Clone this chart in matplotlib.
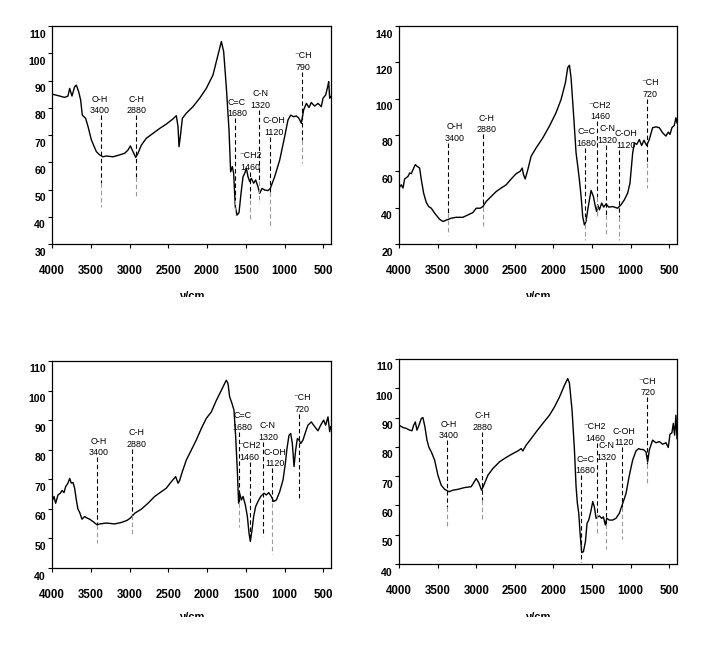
import matplotlib
matplotlib.use('Agg')
import matplotlib.pyplot as plt
from matplotlib.transforms import Bbox, offset_copy

W, H = 703, 645
fig = plt.figure(figsize=(W / 100, H / 100), dpi=100)

# ---------------- data ----------------
x_ticks = [4000, 3500, 3000, 2500, 2000, 1500, 1000, 500]
x_tick_labels = ['4000', '3500', '3000', '2500', '2000', '1500', '1000', '500']
x_label = 'ν/cm'

wn1 = [4000, 3901, 3837, 3794, 3772, 3742, 3708, 3686, 3656, 3630, 3609, 3566, 3535, 3492, 3428, 3385,
       3342, 3299, 3213, 3127, 3062, 3019, 2989, 2955, 2920, 2890, 2847, 2783, 2697, 2611, 2525, 2439,
       2396, 2374, 2361, 2344, 2318, 2267, 2181, 2095, 2009, 1923, 1858, 1815, 1785, 1751, 1716, 1695,
       1673, 1656, 1635, 1613, 1587, 1561, 1535, 1514, 1492, 1471, 1449, 1428, 1398, 1372, 1342, 1320,
       1290, 1256, 1213, 1183, 1127, 1062, 998, 955, 920, 882, 847, 813, 783, 753, 718, 684, 654, 611,
       568, 525, 503, 469, 443, 430, 417, 404]
t1 = [85.0, 84.3, 83.8, 84.3, 87.1, 84.3, 87.7, 88.3, 85.9, 82.8, 77.3, 76.1, 73.1, 68.2, 63.9, 62.7,
      62.0, 62.3, 62.0, 62.7, 63.3, 64.5, 66.0, 63.9, 61.8, 63.3, 66.3, 68.8, 70.6, 72.4, 74.0, 75.9,
      77.1, 73.1, 65.7, 69.4, 76.1, 78.0, 80.4, 83.5, 87.1, 92.0, 99.4, 104.3, 100.6, 87.7, 71.8, 56.5,
      58.4, 55.9, 43.7, 40.6, 41.5, 48.6, 54.7, 55.9, 57.8, 54.7, 52.9, 54.1, 52.3, 53.5, 51.0, 48.6,
      50.4, 49.8, 49.6, 50.4, 54.7, 60.8, 69.4, 75.5, 77.3, 76.7, 77.0, 76.1, 74.3, 79.2, 81.6, 80.1,
      81.9, 80.6, 81.6, 80.4, 83.5, 84.7, 87.7, 89.6, 83.5, 84.1]

wn2 = [4000, 3970, 3948, 3927, 3884, 3862, 3841, 3819, 3789, 3767, 3733, 3711, 3681, 3647, 3616, 3582,
       3539, 3474, 3431, 3379, 3323, 3259, 3172, 3108, 3043, 3000, 2948, 2914, 2871, 2806, 2741, 2677,
       2612, 2547, 2483, 2431, 2405, 2388, 2366, 2332, 2289, 2224, 2138, 2052, 1966, 1901, 1845, 1815,
       1793, 1772, 1741, 1707, 1685, 1664, 1642, 1621, 1599, 1578, 1556, 1534, 1513, 1483, 1457, 1440,
       1427, 1405, 1375, 1349, 1319, 1284, 1233, 1168, 1125, 1082, 1039, 1009, 974, 953, 922, 888, 858,
       828, 793, 759, 716, 672, 629, 586, 543, 513, 491, 466, 435, 414, 400]
t2 = [50.8, 52.6, 50.8, 55.8, 57.2, 59.1, 58.7, 60.9, 63.7, 62.8, 61.8, 55.4, 48.0, 42.9, 40.6, 39.7,
      37.0, 33.6, 32.4, 33.3, 34.2, 34.7, 34.7, 36.0, 37.3, 39.7, 39.7, 40.6, 43.4, 46.2, 48.9, 50.8,
      52.6, 55.8, 58.7, 60.0, 61.8, 58.2, 55.8, 60.9, 68.3, 72.9, 78.4, 84.9, 92.3, 99.6, 108.8, 117.1,
      118.4, 111.6, 92.3, 70.1, 62.8, 55.4, 46.2, 35.1, 30.5, 32.4, 38.8, 44.3, 49.5, 46.2, 40.6, 37.9,
      41.6, 38.8, 42.5, 40.3, 42.1, 40.3, 40.6, 39.7, 41.6, 44.3, 48.0, 53.5, 70.1, 75.7, 74.8, 77.5, 74.2,
      77.1, 74.2, 77.5, 84.0, 84.5, 84.0, 81.2, 79.4, 81.6, 80.3, 84.0, 85.3, 89.5, 86.7]

wn3 = [4000, 3974, 3953, 3923, 3892, 3871, 3845, 3824, 3794, 3772, 3751, 3729, 3708, 3686, 3665, 3643,
       3613, 3579, 3548, 3514, 3471, 3419, 3385, 3299, 3191, 3105, 3032, 2989, 2933, 2847, 2761, 2675,
       2589, 2525, 2460, 2404, 2374, 2353, 2318, 2267, 2202, 2138, 2073, 2009, 1944, 1879, 1815, 1772,
       1751, 1729, 1708, 1677, 1652, 1630, 1609, 1592, 1579, 1557, 1535, 1505, 1479, 1458, 1441, 1419,
       1398, 1372, 1342, 1307, 1264, 1234, 1204, 1170, 1140, 1105, 1062, 1019, 989, 968, 942, 920, 899,
       877, 856, 834, 813, 791, 761, 727, 697, 654, 611, 568, 533, 495, 469, 439, 417, 404]
t3 = [62.5, 64.2, 61.9, 64.7, 65.3, 66.2, 65.5, 67.5, 68.7, 70.3, 68.7, 68.9, 67.0, 63.0, 59.9, 58.8,
      56.5, 57.4, 56.9, 56.5, 55.7, 54.6, 54.9, 55.2, 54.9, 55.4, 56.1, 56.9, 58.5, 59.9, 61.9, 64.2,
      65.8, 67.0, 69.2, 70.9, 68.7, 69.6, 72.6, 76.5, 79.9, 83.3, 87.2, 90.6, 92.8, 96.7, 100.1, 102.4,
      103.5, 102.4, 97.9, 95.6, 93.4, 84.4, 73.1, 61.9, 65.3, 63.0, 64.2, 61.3, 57.4, 51.8, 49.0, 52.9,
      57.4, 60.8, 62.5, 64.2, 65.3, 64.7, 65.5, 64.2, 62.5, 63.0, 65.8, 69.8, 75.4, 80.4, 84.9, 85.5, 82.1,
      74.3, 79.9, 83.8, 83.3, 82.1, 83.3, 86.1, 88.3, 89.4, 87.8, 86.4, 88.3, 90.0, 88.3, 91.1, 86.1, 87.8]

wn4 = [4000, 3948, 3905, 3862, 3832, 3810, 3789, 3767, 3741, 3711, 3690, 3664, 3638, 3612, 3582, 3539,
       3496, 3453, 3409, 3353, 3302, 3237, 3151, 3065, 3034, 3000, 2966, 2931, 2892, 2849, 2784, 2698,
       2612, 2526, 2461, 2418, 2397, 2353, 2289, 2224, 2138, 2052, 1987, 1922, 1858, 1815, 1793, 1759,
       1728, 1707, 1690, 1672, 1655, 1634, 1612, 1586, 1565, 1543, 1517, 1491, 1470, 1448, 1427, 1405,
       1375, 1353, 1328, 1310, 1276, 1233, 1190, 1147, 1103, 1060, 1017, 974, 931, 897, 866, 836, 802,
       780, 759, 716, 672, 629, 586, 543, 513, 491, 466, 448, 431, 414, 400]
t4 = [87.4, 86.6, 86.3, 85.7, 85.5, 87.4, 88.5, 85.7, 87.4, 89.7, 90.0, 86.8, 82.3, 79.8, 78.3, 75.5,
      70.3, 66.9, 65.5, 64.7, 65.2, 65.5, 66.1, 66.4, 67.7, 69.2, 67.7, 65.2, 67.5, 70.3, 72.6, 74.9,
      76.4, 77.7, 78.6, 79.4, 78.6, 80.6, 82.8, 85.1, 88.0, 90.8, 93.6, 97.0, 101.0, 103.3, 101.8, 92.5,
      78.9, 66.4, 60.7, 57.3, 50.5, 43.9, 44.2, 47.6, 53.9, 55.0, 57.8, 61.3, 59.5, 55.6, 56.1, 56.4,
      55.6, 56.1, 53.3, 55.6, 55.0, 55.0, 55.6, 57.3, 60.7, 64.1, 70.3, 75.5, 78.6, 79.4, 79.1, 79.1, 78.3,
      74.9, 78.9, 82.3, 81.4, 81.8, 80.9, 81.4, 79.8, 84.3, 84.8, 88.0, 84.0, 90.8, 82.8]

y_ticks1 = [30, 40, 50, 60, 70, 80, 90, 100, 110]
y_ticks2 = [20, 40, 60, 80, 100, 120, 140]
y_ticks3 = [40, 50, 60, 70, 80, 90, 100, 110]
y_ticks4 = [40, 50, 60, 70, 80, 90, 100, 110]

band_names = ['O-H', 'C-H', 'C=C', '⁻CH2', 'C-N', 'C-OH', '⁻CH']
band_nums1 = ['3400', '2880', '1680', '1460', '1320', '1120', '790']
band_nums2 = ['3400', '2880', '1680', '1460', '1320', '1120', '720']
band_nums3 = ['3400', '2880', '1680', '1460', '1320', '1120', '720']
band_nums4 = ['3400', '2880', '1680', '1460', '1320', '1120', '720']

# dashed marker lines: x, top, black->grey change, bottom ; label centre x
line_x1 = [3363, 2920, 1639, 1441, 1325, 1191, 778]
line_top1 = [77.3, 77.3, 76.1, 56.5, 79.2, 69.4, 93.2]
line_mid1 = [52.3, 54.7, 46.0, 46.0, 53.0, 49.0, 68.0]
line_bot1 = [43.7, 46.8, 40.6, 39.2, 45.2, 36.7, 59.8]
text_x1 = [3385, 2912, 1613, 1441, 1308, 1140, 761]

line_x2 = [3362, 2914, 1595, 1431, 1315, 1155, 789]
line_top2 = [75.7, 80.3, 72.9, 87.7, 74.7, 72.0, 100.0]
line_mid2 = [37.0, 40.6, 35.0, 46.0, 36.0, 35.0, 64.6]
line_bot2 = [25.0, 29.2, 22.2, 34.2, 23.7, 22.2, 50.8]
text_x2 = [3280, 2862, 1569, 1397, 1306, 1060, 746]

line_x3 = [3419, 2963, 1592, 1441, 1277, 1157, 813]
line_top3 = [77.4, 80.4, 86.1, 76.0, 82.7, 73.7, 92.2]
line_mid3 = [54.6, 58.0, 62.0, 49.0, 50.9, 61.9, 63.3]
line_bot3 = [48.4, 50.9, 54.0, 49.0, 50.9, 44.8, 63.3]
text_x3 = [3394, 2912, 1544, 1449, 1213, 1123, 778]

line_x4 = [3379, 2922, 1638, 1440, 1319, 1112, 793]
line_top4 = [82.3, 85.1, 70.3, 81.4, 74.9, 79.8, 97.0]
line_mid4 = [59.5, 61.8, 40.8, 57.0, 53.5, 59.5, 74.0]
line_bot4 = [52.2, 54.8, 40.8, 50.5, 45.0, 48.4, 66.9]
text_x4 = [3353, 2914, 1586, 1461, 1310, 1082, 780]

# ---------------- layout ----------------
panels = [
    dict(rect=(52, 26, 331, 244), wn=wn1, t=t1, yt=y_ticks1, nums=band_nums1,
         lx=line_x1, lt=line_top1, lm=line_mid1, lb=line_bot1, tx=text_x1, xl=(291, 297)),
    dict(rect=(399, 26, 677, 244), wn=wn2, t=t2, yt=y_ticks2, nums=band_nums2,
         lx=line_x2, lt=line_top2, lm=line_mid2, lb=line_bot2, tx=text_x2, xl=(291, 297)),
    dict(rect=(52, 361, 331, 568), wn=wn3, t=t3, yt=y_ticks3, nums=band_nums3,
         lx=line_x3, lt=line_top3, lm=line_mid3, lb=line_bot3, tx=text_x3, xl=(612, 617)),
    dict(rect=(399, 359, 677, 564), wn=wn4, t=t4, yt=y_ticks4, nums=band_nums4,
         lx=line_x4, lt=line_top4, lm=line_mid4, lb=line_bot4, tx=text_x4, xl=(612, 617)),
]

fam = ['Liberation Sans', 'DejaVu Sans']
ytick_font = dict(family=fam, fontsize=7.6, fontweight='bold')
xtick_font = dict(family=fam, fontsize=8.3, fontweight='bold')
ann_font = dict(family=fam, fontsize=6.4)

for p in panels:
    l, t, r, b = p['rect']
    ax = fig.add_axes([l / W, 1 - b / H, (r - l) / W, (b - t) / H])
    ax.plot(p['wn'], p['t'], color='black', lw=1.0)
    ax.set_xlim(4000, 400)
    ax.set_ylim(p['yt'][0], p['yt'][-1])
    for s in ax.spines.values():
        s.set_linewidth(0.9)
    ax.set_xticks(x_ticks)
    ax.set_xticklabels(x_tick_labels, **xtick_font)
    ax.tick_params(axis='x', direction='out', length=3, width=0.8, pad=12)
    ax.set_yticks(p['yt'])
    ax.set_yticklabels([])
    ax.tick_params(axis='y', direction='out', length=3, width=0.8)
    ytr = offset_copy(ax.get_yaxis_transform(), fig=fig, x=-6, y=-8.5, units='dots')
    for v in p['yt']:
        ax.text(0, v, str(v), transform=ytr, ha='right', va='center', **ytick_font)

    for i in range(len(band_names)):
        x = p['lx'][i]
        ax.plot([x, x], [p['lt'][i], p['lm'][i]], color='black', lw=0.8,
                linestyle=(0, (4, 2.5)))
        if p['lb'][i] < p['lm'][i]:
            ax.plot([x, x], [p['lm'][i], p['lb'][i]], color='#9a9a9a', lw=0.8,
                    linestyle=(0, (4, 2.5)))
        ax.text(p['tx'][i], p['lt'][i], band_names[i] + '\n' + p['nums'][i],
                ha='center', va='bottom', linespacing=1.35, **ann_font)

    # x-axis label, only its top part visible as in the reference
    yt_px, yc_px = p['xl']
    txt = fig.text((l + r) / 2 / W, 1 - yt_px / H, x_label, ha='center', va='top',
                   family=fam, fontsize=8, fontweight='bold')
    txt.set_clip_box(Bbox.from_extents(0, H - yc_px, W, H - yt_px + 10))
    txt.set_clip_on(True)

fig.savefig('out.png', dpi=100, facecolor='white')
